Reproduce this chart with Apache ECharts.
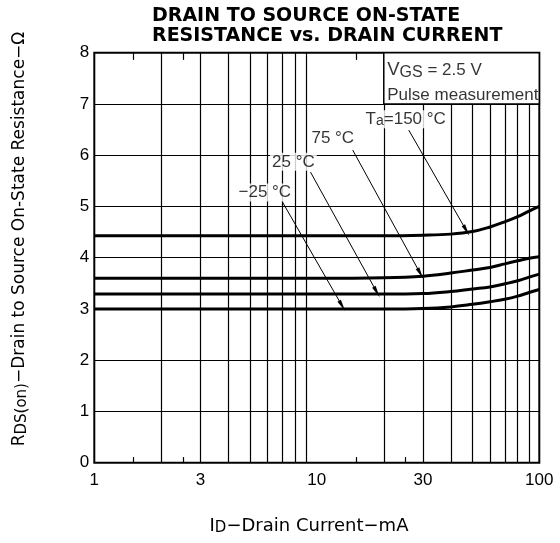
<!DOCTYPE html>
<html><head><meta charset="utf-8">
<script src="https://cdn.jsdelivr.net/npm/echarts@6/dist/echarts.min.js"></script>
<style>html,body{margin:0;padding:0;background:#fff}#c{width:560px;height:543px}</style>
</head><body><div id="c"></div><script>
// ---- data ----
const currents = [1, 2, 5, 10, 20, 30, 40, 50, 60, 70, 80, 90, 100];
const r150 = [4.43, 4.43, 4.43, 4.43, 4.43, 4.44, 4.46, 4.51, 4.60, 4.70, 4.80, 4.91, 5.00];
const r75  = [3.60, 3.60, 3.60, 3.60, 3.61, 3.64, 3.70, 3.76, 3.81, 3.88, 3.94, 3.99, 4.02];
const r25  = [3.29, 3.29, 3.29, 3.29, 3.29, 3.30, 3.34, 3.39, 3.43, 3.49, 3.55, 3.62, 3.68];
const rm25 = [3.00, 3.00, 3.00, 3.00, 3.00, 3.01, 3.04, 3.09, 3.14, 3.19, 3.25, 3.32, 3.38];
const xTickLabels = [1, 3, 10, 30, 100];
const xGridValues = [2, 3, 4, 5, 6, 7, 8, 9, 20, 30, 40, 50, 60, 70, 80, 90];
const xShortTickValues = [1.5, 2.5, 15, 25];
const annoTexts = ['{n|T}{s|a}{n|=150 °C}', '{n|75 °C}', '{n|25 °C}', '{n|−25 °C}'];
const annoLabelX = [25.1, 11.8, 7.85, 5.84];
const annoLabelY = [6.70, 6.33, 5.87, 5.27];
const arrowFrom = [[25.9, 6.49], [14.5, 6.10], [9.37, 5.67], [7.0, 5.09]];
const arrowTo   = [[47.0, 4.53], [29.2, 3.69], [18.6, 3.33], [13.0, 3.06]];
const condTexts = ['{v|V}{s|GS}{n| = 2.5 V}', '{n|Pulse measurement}'];
const condX = [20, 20];
const condY = [7.66, 7.17];

const FONT = 'Liberation Sans';
const TITLEFONT = 'DejaVu Sans';
const mk = ys => currents.map((x, i) => [x, ys[i]]);

const chart = echarts.init(document.getElementById('c'), null, {renderer: 'canvas'});
const gridMarks = xGridValues.map(v => ({xAxis: v}));
xShortTickValues.forEach(v => {
  gridMarks.push([{coord: [v, 0]}, {coord: [v, 0.11]}]);
  gridMarks.push([{coord: [v, 8]}, {coord: [v, 7.86]}]);
});
const curveSeries = [r150, r75, r25, rm25].map(ys => ({
  type: 'line', data: mk(ys), smooth: 0.4, symbol: 'none', z: 4, silent: true,
  lineStyle: {color: '#000', width: 3}
}));
const arrowHead = 'path://M4,0 L8,24 L0,24 Z';
chart.setOption({
  animation: false,
  backgroundColor: '#fff',
  title: {
    text: 'DRAIN TO SOURCE ON-STATE\nRESISTANCE vs. DRAIN CURRENT',
    left: 147, top: 1,
    textStyle: {fontFamily: TITLEFONT, fontSize: 19, fontWeight: 'bold', lineHeight: 20, color: '#000'}
  },
  grid: {left: 94.3, right: 20.7, top: 52.7, bottom: 80.3, show: true, borderColor: '#000', borderWidth: 2, backgroundColor: 'transparent'},
  xAxis: {
    type: 'log', logBase: 10, min: 1, max: 100,
    axisLine: {show: false}, axisTick: {show: false}, splitLine: {show: false}, minorTick: {show: false}, minorSplitLine: {show: false},
    axisLabel: {customValues: xTickLabels, fontSize: 17, fontFamily: 'Liberation Sans Narrow, Liberation Sans', color: '#000', margin: 9}
  },
  yAxis: {
    type: 'value', min: 0, max: 8, interval: 1,
    axisLine: {show: false}, axisTick: {show: false},
    splitLine: {show: true, lineStyle: {color: '#000', width: 1}},
    axisLabel: {fontSize: 17, fontFamily: 'Liberation Sans Narrow, Liberation Sans', color: '#000', margin: 5}
  },
  graphic: [
    {type: 'text', x: 20, y: 239, rotation: Math.PI / 2, z: 10,
      style: {text: '{n|R}{s|DS(on)}{n|−Drain to Source On-State Resistance−Ω}', align: 'center', verticalAlign: 'middle', fill: '#000',
        rich: {n: {fontSize: 17, fontFamily: TITLEFONT, lineHeight: 20, fill: '#000'}, s: {fontSize: 15, fontFamily: TITLEFONT, lineHeight: 14, verticalAlign: 'bottom', fill: '#000'}}}},
    {type: 'text', x: 309, y: 526, z: 10,
      style: {text: '{n|I}{s|D}{n|−Drain Current−mA}', align: 'center', verticalAlign: 'middle', fill: '#000',
        rich: {n: {fontSize: 18, fontFamily: TITLEFONT, lineHeight: 20, fill: '#000'}, s: {fontSize: 15, fontFamily: TITLEFONT, lineHeight: 14, verticalAlign: 'bottom', fill: '#000'}}}}
  ],
  series: [
    {
      type: 'line', data: [], z: 2, silent: true,
      markLine: {z: 2, silent: true, symbol: ['none', 'none'], animation: false,
        lineStyle: {color: '#000', width: 1.2, type: 'solid'}, label: {show: false}, emphasis: {disabled: true},
        data: gridMarks}
    },
    {
      type: 'line', data: [], z: 3, silent: true,
      markArea: {z: 3, silent: true,
        itemStyle: {color: '#fff', borderColor: '#000', borderWidth: 1.5},
        label: {show: false},
        emphasis: {disabled: true},
        data: [[{coord: [20, 8]}, {coord: [100, 7]}]]}
    },
    ...curveSeries,
    {
      type: 'scatter', z: 7, silent: true, symbolSize: 1, itemStyle: {color: 'rgba(0,0,0,0)'},
      data: condX.map((x, i) => [x, condY[i]]),
      label: {show: true, position: 'right', distance: 3,
        formatter: p => condTexts[p.dataIndex],
        rich: {v: {fontSize: 18.5, fontFamily: FONT, lineHeight: 20, color: '#000'},
               n: {fontSize: 17, fontFamily: FONT, lineHeight: 20, color: '#000'},
               s: {fontSize: 16, fontFamily: FONT, lineHeight: 14, verticalAlign: 'bottom', color: '#000'}}}
    },
    {
      type: 'scatter', z: 6, silent: true, symbolSize: 1, itemStyle: {color: 'rgba(0,0,0,0)'},
      data: annoLabelX.map((x, i) => [x, annoLabelY[i]]),
      label: {show: true, position: 'inside', backgroundColor: '#fff', padding: [0, 2],
        formatter: p => annoTexts[p.dataIndex],
        rich: {n: {fontSize: 17, fontFamily: FONT, lineHeight: 18, color: '#000'}, s: {fontSize: 14, fontFamily: FONT, lineHeight: 12, verticalAlign: 'bottom', color: '#000'}}},
      markLine: {z: 6, silent: true, animation: false, symbol: ['none', arrowHead], symbolSize: 12,
        lineStyle: {color: '#000', width: 1, type: 'solid'}, label: {show: false}, emphasis: {disabled: true},
        data: arrowFrom.map((f, i) => [{coord: f}, {coord: arrowTo[i], symbol: arrowHead, symbolSize: 12, symbolKeepAspect: true}])}
    }
  ]
});
</script></body></html>
